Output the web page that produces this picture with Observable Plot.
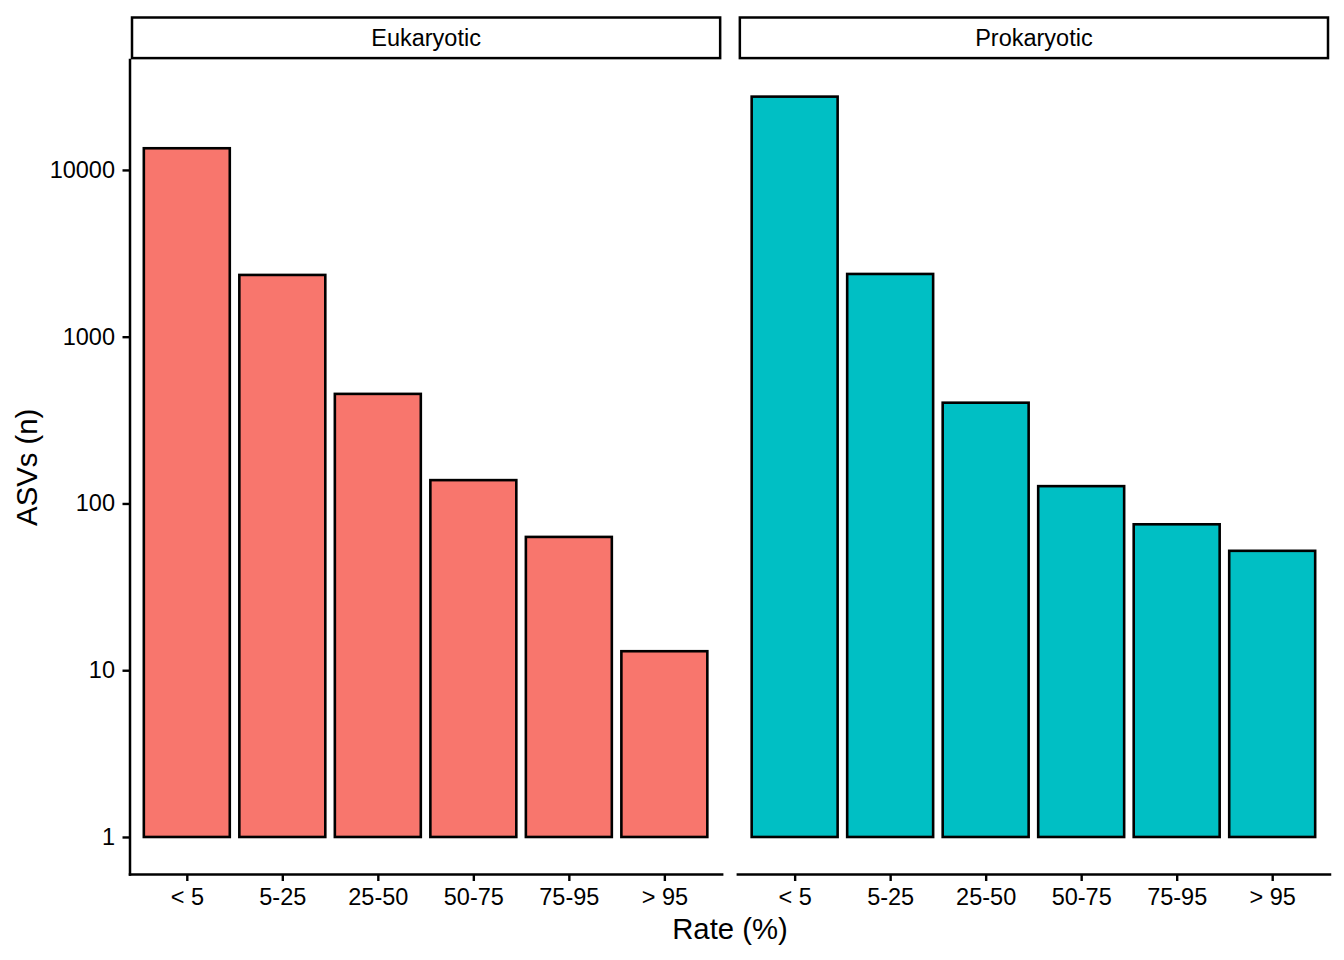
<!DOCTYPE html>
<html>
<head>
<meta charset="utf-8">
<script src="https://cdn.jsdelivr.net/npm/d3@7"></script>
<script src="https://cdn.jsdelivr.net/npm/@observablehq/plot@0.6"></script>
<style>
  html, body { margin: 0; padding: 0; background: white; }
  #chart { width: 1344px; height: 960px; }
</style>
</head>
<body>
<div id="chart"></div>
<script>
// ---- data ----
const rates = ["< 5", "5-25", "25-50", "50-75", "75-95", "> 95"];
const domains = ["Eukaryotic", "Prokaryotic"];
const eukaryotic = [13490, 2346, 454, 138, 63, 13];
const prokaryotic = [27520, 2378, 402, 127, 75, 52];
const yTicks = [1, 10, 100, 1000, 10000];
const fillColors = ["#F8766D", "#00BFC4"];

const table = [
  ...rates.map((r, i) => ({domain: domains[0], rate: r, n: eukaryotic[i]})),
  ...rates.map((r, i) => ({domain: domains[1], rate: r, n: prokaryotic[i]}))
];

// ggplot-like 5% expansion on log10 scale, from 1 to max
const lmax = Math.log10(d3.max(table, d => d.n));
const ex = lmax * 0.05;
const yDomain = [Math.pow(10, -ex), Math.pow(10, lmax + ex)];

const font = "'Liberation Sans', Arial, Helvetica, sans-serif";
const W = 1344, H = 960;
const mT = 59.6, mB = 86, mL = 129.5, mR = 14.5;
const panelH = H - mT - mB;

const chart = Plot.plot({
  width: W,
  height: H,
  marginTop: mT,
  marginBottom: mB,
  marginLeft: mL,
  marginRight: mR,
  style: {fontFamily: font, color: "black", background: "white", overflow: "visible"},
  fx: {domain: domains, paddingInner: 0.0258, paddingOuter: 0, round: false, axis: null, label: null},
  x: {domain: rates, paddingInner: 0.1, paddingOuter: 0.15, round: false, axis: null, label: null},
  y: {type: "log", domain: yDomain, axis: null, label: null},
  color: {domain: domains, range: fillColors},
  marks: [
    Plot.barY(table, {
      fx: "domain", x: "rate", y1: 1, y2: "n",
      fill: "domain", stroke: "black", strokeWidth: 2.6
    }),
    // x axis line per panel
    Plot.frame({anchor: "bottom", stroke: "black", strokeWidth: 2.5}),
    // y axis line, left panel only
    Plot.frame({anchor: "left", facetAnchor: "left", stroke: "black", strokeWidth: 2.5}),
    Plot.axisX({
      tickSize: 7, tickPadding: 7, fontSize: 23.5, label: null,
      stroke: "black", strokeWidth: 2.4, color: "black"
    }),
    Plot.axisY({
      ticks: yTicks, tickFormat: d => d3.format("d")(d),
      tickSize: 7, tickPadding: 8, fontSize: 23.5, label: null,
      stroke: "black", strokeWidth: 2.4, color: "black"
    }),
    // strip boxes
    Plot.frame({
      insetTop: -(mT - 17), insetBottom: panelH + 2,
      insetLeft: 2, insetRight: 2,
      stroke: "black", strokeWidth: 2.5, fill: "white"
    }),
    // strip labels
    Plot.text(domains, {
      fx: d => d, text: d => d, frameAnchor: "top", lineAnchor: "middle",
      dy: -(mT - 38), fontSize: 23.5, fill: "black"
    }),
    // axis titles
    Plot.text(["Rate (%)"], {
      facet: "super", frameAnchor: "bottom", lineAnchor: "middle", dy: 55, text: d => d,
      fontSize: 29.3, fill: "black"
    }),
    Plot.text(["ASVs (n)"], {
      facet: "super", frameAnchor: "left", textAnchor: "middle", lineAnchor: "middle",
      dx: -102, rotate: -90, text: d => d,
      fontSize: 29.3, fill: "black"
    })
  ]
});

document.getElementById("chart").appendChild(chart);
</script>
</body>
</html>
